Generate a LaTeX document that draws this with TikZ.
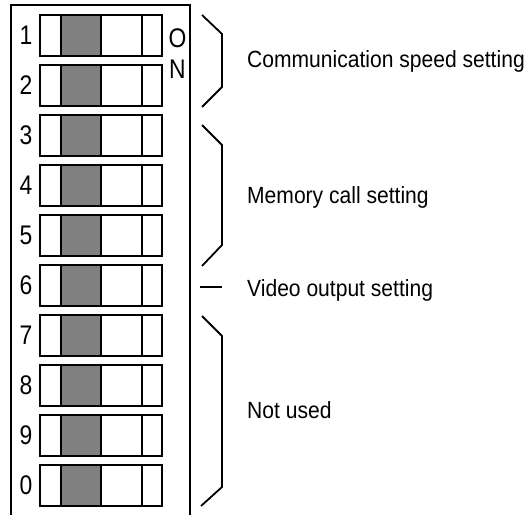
\documentclass[tikz,border=0pt]{standalone}
\usepackage{fontspec}
\setmainfont{Liberation Sans}
\usetikzlibrary{positioning}

\tikzset{
    switch/.style={draw, line width=1.8bp, rectangle, inner sep=0pt, outer sep=0pt,
        minimum width=122bp, minimum height=41bp,
        path picture={
            \fill[black!50] ([xshift=21bp]path picture bounding box.south west)
                rectangle ([xshift=61bp]path picture bounding box.north west);
            \draw[line width=1.8bp] ([xshift=21bp]path picture bounding box.south west)
                -- ([xshift=21bp]path picture bounding box.north west);
            \draw[line width=1.8bp] ([xshift=61bp]path picture bounding box.south west)
                -- ([xshift=61bp]path picture bounding box.north west);
            \draw[line width=1.8bp] ([xshift=102bp]path picture bounding box.south west)
                -- ([xshift=102bp]path picture bounding box.north west);
        }},
    digit/.style={font=\fontsize{27}{28}\selectfont, xscale=0.85, transform shape, inner sep=0pt},
    setting/.style={font=\fontsize{23.5}{25}\selectfont, xscale=0.9, transform shape,
        anchor=base west, inner sep=0pt},
    brace/.style={line width=1.8bp}
}

\begin{document}
\begin{tikzpicture}[x=1bp, y=-1bp]

        \useasboundingbox (0,0) rectangle (525,515);

        % Case (open at the bottom)
        \draw[line width=2.8bp] (11,515) -- (11,5) -- (190,5) -- (190,515);

        % Switches 1 to 0
        \node (sw1) [switch] at (101, 35.5) {};
        \node (sw2) [switch] at (101, 85.5) {};
        \node (sw3) [switch] at (101,135.5) {};
        \node (sw4) [switch] at (101,185.5) {};
        \node (sw5) [switch] at (101,235.5) {};
        \node (sw6) [switch] at (101,285.5) {};
        \node (sw7) [switch] at (101,335.5) {};
        \node (sw8) [switch] at (101,385.5) {};
        \node (sw9) [switch] at (101,435.5) {};
        \node (sw0) [switch] at (101,485.5) {};

        % Switch numbers
        \node (n1) [digit] at (26, 35.5) {1};
        \node (n2) [digit] at (26, 85.5) {2};
        \node (n3) [digit] at (26,135.5) {3};
        \node (n4) [digit] at (26,185.5) {4};
        \node (n5) [digit] at (26,235.5) {5};
        \node (n6) [digit] at (26,285.5) {6};
        \node (n7) [digit] at (26,335.5) {7};
        \node (n8) [digit] at (26,385.5) {8};
        \node (n9) [digit] at (26,435.5) {9};
        \node (n0) [digit] at (26,485.5) {0};

        % ON mark
        \node (on1) [digit] at (177.5,38) {O};
        \node (on2) [digit] at (177.5,69) {N};

        % Brackets grouping the switches
        \draw[brace] (202,15) -- (222,34) -- (222,87) -- (202,107);
        \draw[brace] (202,125) -- (222,145) -- (222,245) -- (202,266);
        \draw[brace] (200,287) -- (222,287);
        \draw[brace] (202,316) -- (222,336) -- (222,487) -- (201,506);

        % Labels
        \node (comm) [setting] at (247,68) {Communication speed setting};
        \node (mem)  [setting] at (247,204) {Memory call setting};
        \node (vid)  [setting] at (247,296) {Video output setting};
        \node (nu)   [setting] at (247,418) {Not used};
\end{tikzpicture}
\end{document}
